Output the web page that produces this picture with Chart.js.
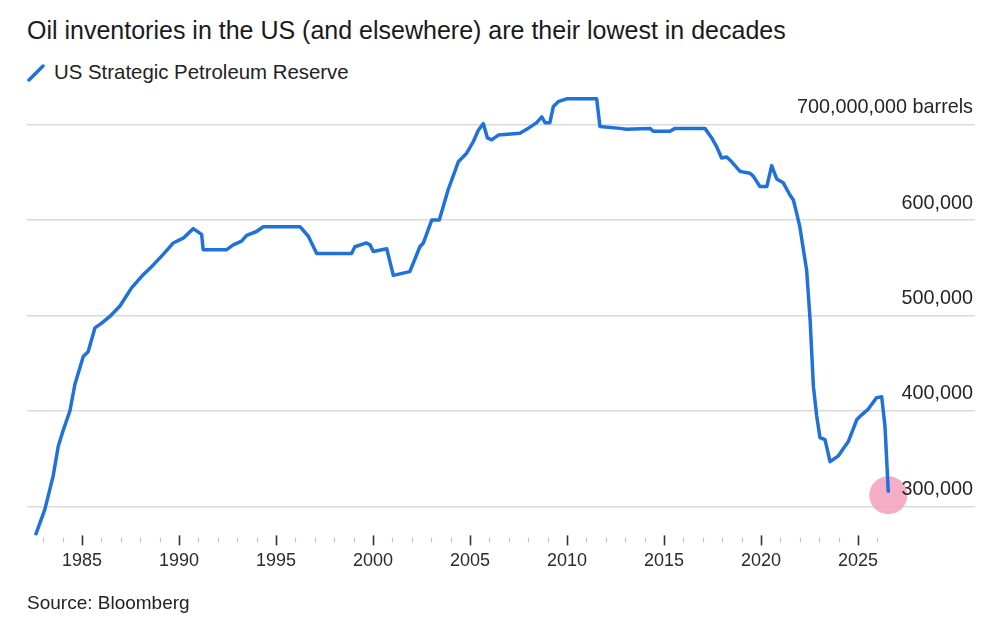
<!DOCTYPE html>
<html>
<head>
<meta charset="utf-8">
<title>US Strategic Petroleum Reserve</title>
<script src="https://cdn.jsdelivr.net/npm/chart.js@4.4.1/dist/chart.umd.min.js"></script>
<style>
  html, body { margin: 0; padding: 0; background: #fff; }
  body {
    width: 995px; height: 619px; position: relative; overflow: hidden;
    font-family: "Liberation Sans", Arial, Helvetica, sans-serif; color: #222;
  }
  #chart { position: absolute; left: 0; top: 0; }
  .title {
    position: absolute; left: 27px; top: 14px;
    font-size: 25px; line-height: 32px; color: #1a1a1a; white-space: nowrap;
  }
  .legend {
    position: absolute; left: 27px; top: 60px; height: 24px;
    font-size: 20.4px; line-height: 24px; color: #222; white-space: nowrap;
  }
  .legend svg { position: absolute; left: 0; top: 4px; }
  .legend span { position: absolute; left: 27px; top: 0; }
  .source {
    position: absolute; left: 27px; top: 592px;
    font-size: 19px; line-height: 22px; color: #222; white-space: nowrap;
  }
</style>
</head>
<body>
<div class="title">Oil inventories in the US (and elsewhere) are their lowest in decades</div>
<div class="legend">
  <svg width="18" height="18" viewBox="0 0 18 18"><line x1="2" y1="16" x2="16" y2="2" stroke="#1f72d9" stroke-width="3.5" stroke-linecap="round"/></svg>
  <span>US Strategic Petroleum Reserve</span>
</div>
<canvas id="chart" width="995" height="619"></canvas>
<div class="source">Source: Bloomberg</div>

<script>
// SPR level, millions of barrels
const years = [
  1982.63, 1983.09, 1983.52, 1983.78, 1984.04, 1984.38, 1984.64, 1985.07, 1985.32, 1985.67,
  1986.02, 1986.44, 1986.96, 1987.56, 1988.08, 1988.68, 1989.19, 1989.71, 1990.22, 1990.74,
  1991.17, 1991.25, 1992.46, 1992.80, 1993.23, 1993.49, 1994.00, 1994.35, 1996.24, 1996.67,
  1997.10, 1998.90, 1999.07, 1999.67, 1999.85, 2000.02, 2000.71, 2001.05, 2001.90, 2002.42,
  2002.60, 2003.03, 2003.42, 2003.88, 2004.40, 2004.83, 2005.17, 2005.43, 2005.69, 2005.90,
  2006.12, 2006.46, 2007.58, 2007.92, 2008.44, 2008.70, 2008.87, 2009.12, 2009.30, 2009.55,
  2009.98, 2011.53, 2011.70, 2012.73, 2013.07, 2014.28, 2014.45, 2015.31, 2015.57, 2017.11,
  2017.46, 2017.71, 2017.97, 2018.23, 2018.49, 2018.92, 2019.43, 2019.60, 2019.95, 2020.30,
  2020.55, 2020.81, 2021.15, 2021.50, 2021.67, 2021.84, 2022.00, 2022.35, 2022.53, 2022.70,
  2022.87, 2023.04, 2023.30, 2023.56, 2023.99, 2024.50, 2024.94, 2025.19, 2025.53, 2025.96,
  2026.22, 2026.39, 2026.56
];
const reserve = [
  271, 297, 332, 363, 380, 400, 428, 457, 462, 487,
  492, 499, 510, 529, 541, 553, 564, 576, 581, 591,
  585, 569, 569, 574, 578, 584, 588, 593, 593, 583,
  565, 565, 572, 576, 574, 567, 570, 542, 546, 572,
  576, 600, 600, 632, 661, 670, 682, 694, 701, 686,
  684, 689, 691, 695, 702, 708, 702, 702, 719, 724,
  727, 727, 698, 696, 695, 696, 693, 693, 696, 696,
  686, 677, 665, 666, 661, 651, 649, 646, 635, 635,
  657, 643, 639, 626, 621, 607, 593, 548, 496, 426,
  395, 372, 370, 347, 353, 368, 391, 396, 402, 414,
  415, 384, 316
];

const xTickYears = [
  1983, 1984, 1985, 1986, 1987, 1988, 1989, 1990, 1991, 1992, 1993,
  1994, 1995, 1996, 1997, 1998, 1999, 2000, 2001, 2002, 2003, 2004,
  2005, 2006, 2007, 2008, 2009, 2010, 2011, 2012, 2013, 2014, 2015,
  2016, 2017, 2018, 2019, 2020, 2021, 2022, 2023, 2024, 2025, 2026
];
const yTicks = [300, 400, 500, 600, 700];
const yTickLabels = ['300,000', '400,000', '500,000', '600,000', '700,000,000 barrels'];

const FONT = '"Liberation Sans", Arial, Helvetica, sans-serif';
const LINE_BLUE = '#1f72d9';

// draws the right-hand labels above gridlines, the year tick marks and the end dot
const annotations = {
  id: 'annotations',
  beforeDatasetsDraw(chart) {
    const ctx = chart.ctx;
    const meta = chart.getDatasetMeta(0);
    const last = meta.data[meta.data.length - 1];
    ctx.save();
    ctx.fillStyle = 'rgba(244, 160, 188, 0.85)';
    ctx.beginPath();
    ctx.arc(last.x, last.y + 4, 19, 0, Math.PI * 2);
    ctx.fill();
    ctx.restore();
  },
  afterDraw(chart) {
    const ctx = chart.ctx;
    const area = chart.chartArea;
    const x = chart.scales.x;
    const y = chart.scales.y;
    ctx.save();

    ctx.font = '19.8px ' + FONT;
    ctx.fillStyle = '#262626';
    ctx.textAlign = 'right';
    ctx.textBaseline = 'middle';
    yTicks.forEach((v, i) => {
      ctx.fillText(yTickLabels[i], area.right - 2, y.getPixelForValue(v) - 17);
    });

    xTickYears.forEach(yr => {
      const px = Math.round(x.getPixelForValue(yr)) + 0.5;
      const major = yr % 5 === 0;
      ctx.beginPath();
      ctx.strokeStyle = major ? '#333' : '#c8c8c8';
      ctx.lineWidth = major ? 1.6 : 1.2;
      ctx.moveTo(px, area.bottom + (major ? 0 : 2));
      ctx.lineTo(px, area.bottom + (major ? 10 : 7));
      ctx.stroke();
    });
    ctx.restore();
  }
};

const ctx = document.getElementById('chart').getContext('2d');
new Chart(ctx, {
  type: 'line',
  data: {
    datasets: [{
      label: 'US Strategic Petroleum Reserve',
      data: years.map((yr, i) => ({ x: yr, y: reserve[i] })),
      borderColor: LINE_BLUE,
      borderWidth: 3.5,
      pointRadius: 0,
      tension: 0,
      borderJoinStyle: 'round',
      borderCapStyle: 'round'
    }]
  },
  options: {
    responsive: false,
    animation: false,
    devicePixelRatio: 1,
    layout: { padding: { top: 90, left: 27, right: 20, bottom: 32 } },
    plugins: {
      legend: { display: false },
      tooltip: { enabled: false }
    },
    scales: {
      x: {
        type: 'linear',
        min: 1982.17,
        max: 2031.03,
        afterBuildTicks: s => { s.ticks = xTickYears.map(v => ({ value: v })); },
        grid: { display: false, drawTicks: false },
        border: { display: false },
        ticks: {
          autoSkip: false,
          maxRotation: 0,
          padding: 15,
          color: '#2b2b2b',
          font: { size: 18, family: FONT },
          callback: v => (v % 5 === 0 ? String(v) : '')
        }
      },
      y: {
        position: 'right',
        min: 269.7,
        max: 736.2,
        afterBuildTicks: s => { s.ticks = yTicks.map(v => ({ value: v })); },
        grid: { color: '#dadada', lineWidth: 1.5, drawTicks: false },
        border: { display: false },
        ticks: { display: false }
      }
    }
  },
  plugins: [annotations]
});
</script>
</body>
</html>
